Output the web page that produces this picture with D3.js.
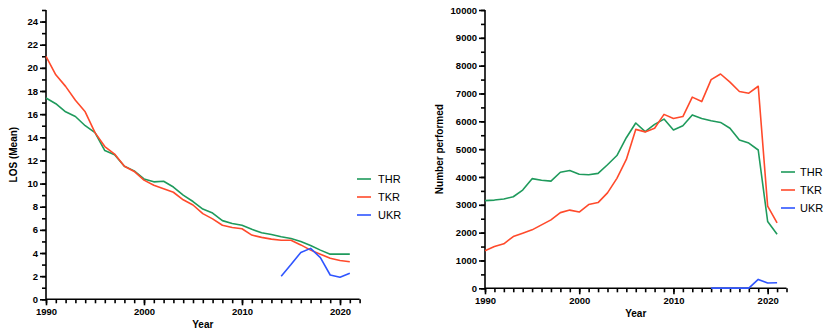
<!DOCTYPE html>
<html>
<head>
<meta charset="utf-8">
<script src="https://cdn.jsdelivr.net/npm/d3@7"></script>
<style>
  body { margin: 0; background: #fff; }
  svg { display: block; font-family: "Liberation Sans", Arial, sans-serif; }
  .tick text { font-weight: bold; font-size: 9.5px; fill: #000; }
  .domain, .tick line { stroke: #000; stroke-width: 1.6px; }
</style>
</head>
<body>
<div class="chart"></div>
<script>
const years = d3.range(1990, 2022);
const ukrYears = d3.range(2014, 2022);

// length of stay (mean days)
const losTHR = [17.4, 16.9, 16.2, 15.8, 15.0, 14.4, 12.85, 12.5, 11.5, 11.1,
  10.4, 10.15, 10.2, 9.7, 9.0, 8.45, 7.8, 7.45, 6.8, 6.55,
  6.4, 6.05, 5.75, 5.6, 5.4, 5.25, 5.0, 4.65, 4.25, 3.9, 3.9, 3.9];
const losTKR = [21.0, 19.4, 18.4, 17.2, 16.2, 14.4, 13.2, 12.55, 11.5, 11.05,
  10.3, 9.85, 9.55, 9.25, 8.6, 8.15, 7.4, 6.95, 6.4, 6.2,
  6.1, 5.55, 5.35, 5.2, 5.1, 5.1, 4.7, 4.25, 3.9, 3.55, 3.35, 3.25];
const losUKR = [2.0, 3.0, 4.05, 4.4, 3.6, 2.1, 1.9, 2.25];

// number performed
const numTHR = [3150, 3170, 3210, 3290, 3530, 3940, 3880, 3850, 4170, 4230,
  4100, 4080, 4130, 4440, 4770, 5410, 5940, 5630, 5890, 6080,
  5690, 5840, 6230, 6100, 6020, 5960, 5750, 5330, 5220, 4970, 2400, 1940];
const numTKR = [1350, 1500, 1600, 1860, 1980, 2100, 2280, 2460, 2720, 2810,
  2740, 3010, 3080, 3430, 3950, 4630, 5710, 5620, 5750, 6250,
  6100, 6170, 6870, 6710, 7500, 7700, 7410, 7070, 7010, 7260, 2950, 2350];
const numUKR = [5, 5, 5, 5, 5, 320, 190, 200];

const seriesNames = ['THR', 'TKR', 'UKR'];
const colors = {THR: '#1f9a5c', TKR: '#ff4a2b', UKR: '#2f55ff'};

const xTicks = [1990, 2000, 2010, 2020];
const losTicks = [0, 2, 4, 6, 8, 10, 12, 14, 16, 18, 20, 22, 24];
const numTicks = [0, 1000, 2000, 3000, 4000, 5000, 6000, 7000, 8000, 9000, 10000];

const svg = d3.select('.chart')
  .append('svg')
  .attr('width', 825)
  .attr('height', 335);

function drawPanel(cfg) {
  const g = svg.append('g')
    .attr('transform', 'translate(' + cfg.left + ', ' + cfg.top + ')');

  const x = d3.scaleLinear().domain([1990, 2022]).range([0, cfg.width]);
  const y = d3.scaleLinear().domain(cfg.yDomain).range([cfg.height, 0]);

  // minor ticks first, majors with labels on top
  g.append('g')
    .attr('transform', `translate(0, ${cfg.height})`)
    .call(d3.axisBottom(x).tickValues(d3.range(1990, 2023)).tickSize(4).tickFormat(''))
    .call(a => a.select('.domain').remove());
  g.append('g')
    .attr('transform', `translate(0, ${cfg.height})`)
    .call(d3.axisBottom(x).tickValues(xTicks).tickSize(6).tickPadding(3).tickFormat(d3.format('d')))
    .call(a => a.select('.domain').attr('d', `M0,0H${cfg.width}`));

  g.append('g')
    .call(d3.axisLeft(y).tickValues(cfg.minorTicks).tickSize(4).tickFormat(''))
    .call(a => a.select('.domain').remove());
  g.append('g')
    .call(d3.axisLeft(y).tickValues(cfg.yTicks).tickSize(6).tickPadding(2).tickFormat(d3.format('d')))
    .call(a => a.select('.domain').attr('d', `M0,0V${cfg.height}`));

  const line = d3.line()
    .x(d => x(d[0]))
    .y(d => y(d[1]));

  cfg.series.forEach(s => {
    g.append('path')
      .datum(s.years.map((yr, i) => [yr, s.values[i]]))
      .attr('fill', 'none')
      .attr('stroke', colors[s.name])
      .attr('stroke-width', 1.6)
      .attr('stroke-linejoin', 'round')
      .attr('d', line);
  });

  g.append('text')
    .attr('x', x(2006))
    .attr('y', cfg.height + cfg.xTitleGap)
    .attr('text-anchor', 'middle')
    .attr('font-weight', 'bold')
    .attr('font-size', 10)
    .text('Year');

  g.append('text')
    .attr('transform', `translate(${cfg.yTitleX}, ${cfg.height / 2}) rotate(-90)`)
    .attr('text-anchor', 'middle')
    .attr('font-weight', 'bold')
    .attr('font-size', 10)
    .text(cfg.yTitle);

  const leg = svg.append('g')
    .attr('transform', 'translate(' + cfg.legX + ', ' + cfg.legY + ')');
  seriesNames.forEach((n, i) => {
    leg.append('line')
      .attr('x1', 0).attr('x2', 14)
      .attr('y1', i * 18).attr('y2', i * 18)
      .attr('stroke', colors[n])
      .attr('stroke-width', 1.6);
    leg.append('text')
      .attr('x', cfg.legGap)
      .attr('y', i * 18 + 4)
      .attr('font-size', 11)
      .text(n);
  });
}

drawPanel({
  left: 46, top: 10, width: 313.6, height: 289.3,
  yDomain: [0, 25],
  yTicks: losTicks,
  minorTicks: d3.range(0, 26),
  yTitle: 'LOS (Mean)', yTitleX: -29, xTitleGap: 29,
  legX: 357, legY: 179, legGap: 21,
  series: [
    {name: 'THR', years: years, values: losTHR},
    {name: 'TKR', years: years, values: losTKR},
    {name: 'UKR', years: ukrYears, values: losUKR}
  ]
});

drawPanel({
  left: 485, top: 10, width: 301.5, height: 278.3,
  yDomain: [0, 10000],
  yTicks: numTicks,
  minorTicks: d3.range(0, 10001, 500),
  yTitle: 'Number performed', yTitleX: -42, xTitleGap: 29,
  legX: 781, legY: 172, legGap: 19,
  series: [
    {name: 'THR', years: years, values: numTHR},
    {name: 'TKR', years: years, values: numTKR},
    {name: 'UKR', years: ukrYears, values: numUKR}
  ]
});
</script>
</body>
</html>
